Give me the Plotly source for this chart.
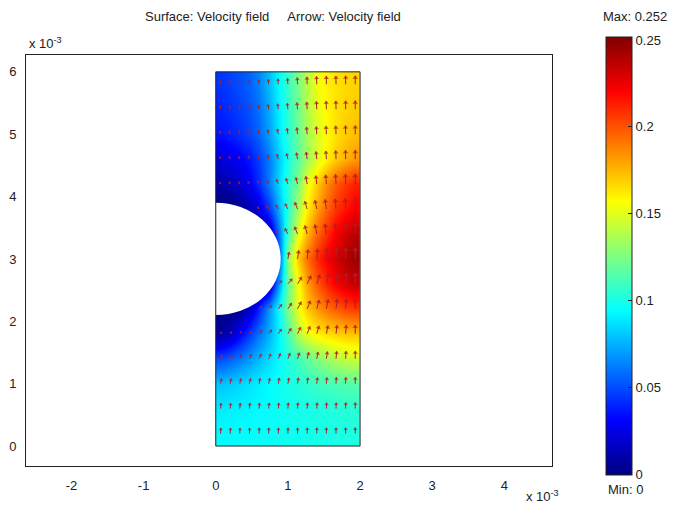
import numpy as np
import plotly.graph_objects as go

# ---- data (units of 1e-3 m for coordinates, m/s for speed) ----
x_cent = [0.0667, 0.2, 0.3333, 0.4667, 0.6, 0.7333, 0.8667, 1.0, 1.1333,
          1.2667, 1.4, 1.5333, 1.6667, 1.8, 1.9333]
y_cent = [0.2, 0.6, 1.0, 1.4, 1.8, 2.2, 2.6, 3.0, 3.4, 3.8, 4.2, 4.6, 5.0, 5.4, 5.8]

# speed magnitude, rows bottom -> top
speed = [
    [0.094, 0.094, 0.095, 0.095, 0.096, 0.096, 0.097, 0.098, 0.098, 0.099, 0.100, 0.100, 0.101, 0.101, 0.102],
    [0.090, 0.091, 0.092, 0.093, 0.094, 0.095, 0.097, 0.098, 0.099, 0.100, 0.101, 0.102, 0.103, 0.104, 0.105],
    [0.080, 0.082, 0.085, 0.088, 0.091, 0.094, 0.097, 0.100, 0.103, 0.106, 0.109, 0.111, 0.113, 0.115, 0.116],
    [0.050, 0.055, 0.062, 0.070, 0.078, 0.086, 0.094, 0.102, 0.110, 0.118, 0.126, 0.133, 0.139, 0.143, 0.145],
    [0.008, 0.015, 0.030, 0.046, 0.060, 0.075, 0.092, 0.112, 0.138, 0.153, 0.160, 0.165, 0.168, 0.171, 0.172],
    [0.000, 0.000, 0.005, 0.018, 0.040, 0.068, 0.095, 0.125, 0.152, 0.170, 0.182, 0.192, 0.198, 0.203, 0.206],
    [0.000, 0.000, 0.000, 0.000, 0.000, 0.010, 0.070, 0.120, 0.155, 0.180, 0.198, 0.212, 0.222, 0.230, 0.235],
    [0.000, 0.000, 0.000, 0.000, 0.000, 0.000, 0.050, 0.130, 0.170, 0.192, 0.210, 0.222, 0.232, 0.240, 0.245],
    [0.000, 0.000, 0.000, 0.000, 0.000, 0.010, 0.060, 0.110, 0.150, 0.175, 0.195, 0.210, 0.222, 0.232, 0.238],
    [0.000, 0.000, 0.003, 0.012, 0.024, 0.045, 0.075, 0.105, 0.135, 0.160, 0.180, 0.196, 0.208, 0.216, 0.222],
    [0.010, 0.013, 0.020, 0.030, 0.042, 0.062, 0.085, 0.105, 0.125, 0.152, 0.170, 0.186, 0.198, 0.207, 0.213],
    [0.022, 0.025, 0.030, 0.037, 0.047, 0.062, 0.082, 0.100, 0.117, 0.133, 0.148, 0.160, 0.170, 0.177, 0.182],
    [0.036, 0.039, 0.043, 0.049, 0.057, 0.071, 0.089, 0.104, 0.120, 0.135, 0.148, 0.158, 0.165, 0.170, 0.173],
    [0.040, 0.043, 0.047, 0.052, 0.060, 0.074, 0.091, 0.106, 0.122, 0.138, 0.151, 0.159, 0.164, 0.168, 0.170],
    [0.044, 0.047, 0.051, 0.056, 0.064, 0.078, 0.094, 0.108, 0.124, 0.140, 0.154, 0.160, 0.164, 0.167, 0.168],
]

# arrow tilt from vertical in degrees (positive = leaning right), rows bottom -> top
tilt = [
    [3, 3, 2, 2, 2, 2, 2, 1, 1, 1, 1, 0, 0, 0, 0],
    [5, 5, 5, 5, 5, 5, 5, 4, 4, 3, 3, 2, 2, 1, 0],
    [10, 10, 12, 12, 12, 12, 11, 10, 9, 8, 6, 5, 3, 2, 0],
    [20, 22, 25, 25, 25, 24, 22, 20, 17, 14, 11, 8, 5, 3, 0],
    [30, 35, 38, 40, 40, 38, 35, 31, 26, 21, 16, 11, 7, 4, 0],
    [0, 0, 0, 45, 45, 42, 38, 33, 28, 22, 16, 11, 7, 4, 0],
    [0, 0, 0, 0, 0, 0, 50, 40, 32, 25, 19, 13, 8, 4, 0],
    [0, 0, 0, 0, 0, 0, 0, 10, 8, 6, 4, 3, 2, 1, 0],
    [0, 0, 0, 0, 0, 0, -35, -28, -22, -16, -11, -8, -5, -2, 0],
    [0, 0, 0, -40, -38, -36, -32, -28, -22, -17, -12, -8, -5, -2, 0],
    [-25, -28, -30, -30, -28, -25, -22, -18, -14, -10, -7, -5, -3, -1, 0],
    [-18, -20, -22, -22, -21, -19, -16, -13, -10, -8, -6, -4, -2, -1, 0],
    [-12, -14, -15, -15, -14, -13, -11, -9, -7, -5, -4, -3, -2, -1, 0],
    [-8, -9, -10, -10, -9, -8, -7, -6, -5, -4, -3, -2, -1, 0, 0],
    [-5, -5, -6, -6, -6, -5, -4, -4, -3, -2, -2, -1, -1, 0, 0],
]

x_ticks = [-2, -1, 0, 1, 2, 3, 4]
y_ticks = [0, 1, 2, 3, 4, 5, 6]
cbar_ticks = [0, 0.05, 0.1, 0.15, 0.2, 0.25]
cbar_text = ["0", "0.05", "0.1", "0.15", "0.2", "0.25"]
v_max = 0.252
v_min = 0

# geometry of the domain (units of 1e-3 m)
dom_w, dom_h = 2.0, 6.0
cyl_cy, cyl_r = 3.0, 0.9

# ---- layout constants ----
W, H = 676, 508
ml, mr, mt, mb = 26, 124, 55, 42
xr = [-2.63, 4.66]
yr = [-0.32, 6.27]
pw = W - ml - mr
ph = H - mt - mb
pxx = pw / (xr[1] - xr[0])
pxy = ph / (yr[1] - yr[0])

jet = [[0.0, "rgb(0,0,128)"], [0.125, "rgb(0,0,255)"], [0.375, "rgb(0,255,255)"],
       [0.625, "rgb(255,255,0)"], [0.875, "rgb(255,0,0)"], [1.0, "rgb(128,0,0)"]]

font = dict(family="Liberation Sans, Arial", size=13, color="#222")

fig = go.Figure()

fig.add_trace(go.Heatmap(
    x=x_cent, y=y_cent, z=speed, zmin=v_min, zmax=v_max, zsmooth="best",
    colorscale=jet, hoverinfo="skip",
    colorbar=dict(
        x=(606 - ml) / pw, xanchor="left", xpad=0, ypad=0,
        y=(H - mb - 255.5) / ph, yanchor="middle",
        len=438, lenmode="pixels", thickness=26,
        outlinecolor="#222", outlinewidth=1,
        tickvals=cbar_ticks, ticktext=cbar_text, ticks="inside", ticklen=4,
        tickcolor="#222", tickfont=font,
    ),
))

# ---- arrows ----
sx, sy, hx, hy, ha, hs = [], [], [], [], [], []
for i, yv in enumerate(y_cent):
    for j, xv in enumerate(x_cent):
        if xv ** 2 + (yv - cyl_cy) ** 2 < (cyl_r + 0.04) ** 2:
            continue
        s = speed[i][j]
        L = 2.0 + 38 * s
        th = np.radians(tilt[i][j])
        ux, uy = np.sin(th), np.cos(th)
        hsz = 2.5 + 13 * s
        tipx = xv + L * ux / pxx
        tipy = yv + L * uy / pxy
        sx += [xv, tipx, None]
        sy += [yv, tipy, None]
        back = L - hsz * 0.35
        hx.append(xv + back * ux / pxx)
        hy.append(yv + back * uy / pxy)
        ha.append(tilt[i][j])
        hs.append(hsz)

arrow_col = "#b01e28"
fig.add_trace(go.Scatter(x=sx, y=sy, mode="lines", line=dict(color=arrow_col, width=1),
                         hoverinfo="skip", showlegend=False))
fig.add_trace(go.Scatter(x=hx, y=hy, mode="markers",
                         marker=dict(symbol="triangle-up", size=hs, angle=ha, color=arrow_col,
                                     line=dict(width=0)),
                         hoverinfo="skip", showlegend=False))

shapes = [
    dict(type="circle", xref="x", yref="y", x0=-cyl_r, x1=cyl_r,
         y0=cyl_cy - cyl_r, y1=cyl_cy + cyl_r, fillcolor="white", line=dict(width=0)),
    dict(type="rect", xref="x", yref="y", x0=0, x1=dom_w, y0=0, y1=dom_h,
         line=dict(color="#222", width=1), fillcolor="rgba(0,0,0,0)"),
]

sp = "\u00a0"
annotations = [
    dict(text="Surface: Velocity field" + sp * 5 + "Arrow: Velocity field",
         xref="paper", yref="paper", x=(273 - ml) / pw, y=(H - mb - 17) / ph,
         xanchor="center", yanchor="middle", showarrow=False, font=font),
    dict(text="x" + sp + "10<sup>-3</sup>", xref="paper", yref="paper",
         x=(27 - ml) / pw, y=(H - mb - 53) / ph, xanchor="left", yanchor="bottom",
         showarrow=False, font=font),
    dict(text="x" + sp + "10<sup>-3</sup>", xref="paper", yref="paper",
         x=(524 - ml) / pw, y=(H - mb - 506) / ph, xanchor="left", yanchor="bottom",
         showarrow=False, font=font),
    dict(text="Max: " + str(v_max), xref="paper", yref="paper",
         x=(601 - ml) / pw, y=(H - mb - 16) / ph, xanchor="left", yanchor="middle",
         showarrow=False, font=font),
    dict(text="Min: " + str(v_min), xref="paper", yref="paper",
         x=(606 - ml) / pw, y=(H - mb - 490) / ph, xanchor="left", yanchor="middle",
         showarrow=False, font=font),
]

axis_common = dict(showgrid=False, zeroline=False, showline=True, mirror=True,
                   linecolor="#222", linewidth=1, ticks="", tickfont=font,
                   automargin=False)

fig.update_layout(
    width=W, height=H, margin=dict(l=ml, r=mr, t=mt, b=mb, autoexpand=False),
    paper_bgcolor="white", plot_bgcolor="white", showlegend=False,
    xaxis=dict(range=xr, tickvals=x_ticks, ticktext=[str(v) for v in x_ticks],
               ticklabelstandoff=7, **axis_common),
    yaxis=dict(range=yr, tickvals=y_ticks, ticktext=[str(v) for v in y_ticks],
               ticklabelstandoff=6, **axis_common),
    shapes=shapes, annotations=annotations,
)

fig.write_html("out.html")
